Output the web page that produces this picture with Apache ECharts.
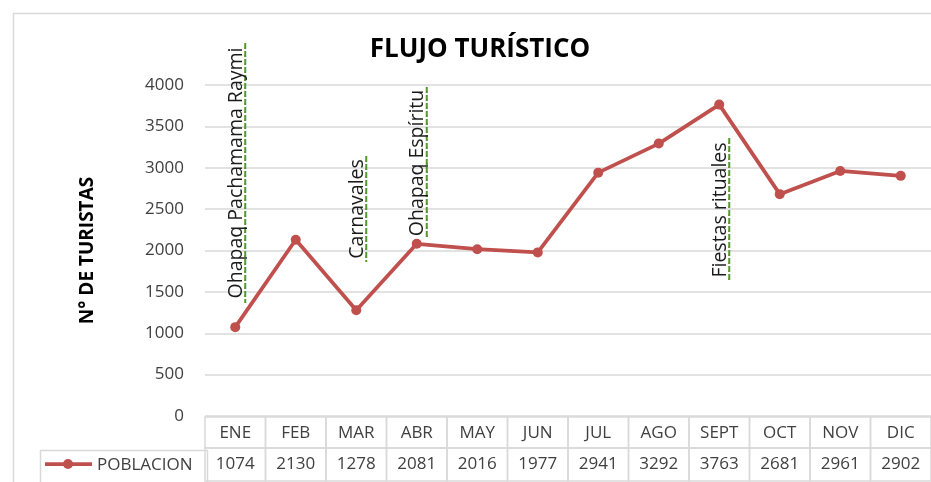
<!DOCTYPE html>
<html>
<head>
<meta charset="utf-8">
<script src="https://cdn.jsdelivr.net/npm/echarts@6/dist/echarts.min.js"></script>
<style>
  html, body { margin: 0; padding: 0; background: #fff; }
  #chart { width: 931px; height: 482px; }
</style>
</head>
<body>
<div id="chart"></div>
<script>
// Monthly tourist arrivals
const months = ['ENE', 'FEB', 'MAR', 'ABR', 'MAY', 'JUN', 'JUL', 'AGO', 'SEPT', 'OCT', 'NOV', 'DIC'];
const poblacion = [1074, 2130, 1278, 2081, 2016, 1977, 2941, 3292, 3763, 2681, 2961, 2902];
const seriesName = 'POBLACION';

// Festivities noted on the chart: month index, lower and upper value of the note
const eventMonths = [0, 2, 3, 8];
const eventLow = [1366, 1861, 2139, 1619];
const eventHigh = [4508, 3142, 3976, 3360];
const eventNames = ['Ohapaq Pachamama Raymi', 'Carnavales', 'Ohapaq Espíritu', 'Fiestas rituales'];

const yTicks = [0, 500, 1000, 1500, 2000, 2500, 3000, 3500, 4000];

const FONT = '"Open Sans", "Liberation Sans", sans-serif';
const LINE_COLOR = '#c0504d';
const GRID_COLOR = '#d9d9d9';
const TEXT_COLOR = '#404040';

const chart = echarts.init(document.getElementById('chart'), null, { renderer: 'canvas' });

const eventData = eventMonths.map((m, k) => [m, eventLow[k], eventHigh[k]]);
const tableData = poblacion.map((v, i) => [i, v]);

chart.setOption({
  animation: false,
  backgroundColor: '#ffffff',
  title: {
    text: 'FLUJO TURÍSTICO',
    left: 475,
    top: 32,
    textAlign: 'center',
    textStyle: { fontFamily: FONT, fontSize: 26, fontWeight: 'bold', color: '#000', letterSpacing: 1.2 }
  },
  grid: { left: 205, right: 0, top: 85, bottom: 66, containLabel: false },
  xAxis: {
    type: 'category',
    data: months,
    boundaryGap: true,
    axisLine: { show: false },
    axisTick: { show: false },
    axisLabel: { show: false },
    splitLine: { show: false }
  },
  yAxis: {
    type: 'value',
    min: yTicks[0],
    max: yTicks[yTicks.length - 1],
    interval: 500,
    name: 'N° DE TURISTAS',
    nameLocation: 'middle',
    nameRotate: 90,
    nameGap: 108,
    nameTextStyle: { fontFamily: FONT, fontSize: 19, fontWeight: 'bold', color: '#000' },
    axisLine: { show: false },
    axisTick: { show: false },
    axisLabel: { fontFamily: FONT, fontSize: 17, color: TEXT_COLOR, margin: 21, formatter: v => String(v) },
    splitLine: { lineStyle: { color: GRID_COLOR, width: 1.5 } }
  },
  series: [
    {
      name: seriesName,
      type: 'line',
      data: poblacion,
      symbol: 'circle',
      symbolSize: 10,
      lineStyle: { color: LINE_COLOR, width: 3.75 },
      itemStyle: { color: LINE_COLOR },
      z: 3
    },
    {
      // vertical festivity notes
      type: 'custom',
      clip: false,
      data: eventData,
      z: 4,
      renderItem: function (params, api) {
        const lo = api.coord([api.value(0), api.value(1)]);
        const hi = api.coord([api.value(0), api.value(2)]);
        const x = lo[0];
        const lx = x + 10;
        return {
          type: 'group',
          children: [
            {
              type: 'line',
              shape: { x1: lx, y1: hi[1], x2: lx, y2: lo[1] },
              style: { stroke: '#ff2a2a', lineWidth: 1.5, lineDash: [2, 6], lineDashOffset: 4 }
            },
            {
              type: 'line',
              shape: { x1: lx, y1: hi[1], x2: lx, y2: lo[1] },
              style: { stroke: '#4f9a2e', lineWidth: 2, lineDash: [6, 2] }
            },
            {
              type: 'text',
              x: x + 1,
              y: (hi[1] + lo[1]) / 2,
              rotation: Math.PI / 2,
              style: {
                text: eventNames[params.dataIndex],
                fontFamily: FONT,
                fontSize: 19.5,
                fill: '#1a1a1a',
                align: 'center',
                verticalAlign: 'middle'
              }
            }
          ]
        };
      }
    },
    {
      // data table under the plot: month header and value per column
      type: 'custom',
      clip: false,
      data: tableData,
      z: 2,
      renderItem: function (params, api) {
        const i = api.value(0);
        const base = api.coord([i, 0]);
        const w = api.size([1, 0])[0];
        const x0 = base[0] - w / 2;
        const y0 = base[1] + 1;
        const h1 = 31, h2 = 33;
        return {
          type: 'group',
          children: [
            { type: 'rect', shape: { x: x0, y: y0, width: w, height: h1 },
              style: { fill: 'none', stroke: GRID_COLOR, lineWidth: 1.5 } },
            { type: 'rect', shape: { x: x0, y: y0 + h1, width: w, height: h2 },
              style: { fill: 'none', stroke: GRID_COLOR, lineWidth: 1.5 } },
            { type: 'text', x: base[0], y: y0 + h1 / 2 + 1,
              style: { text: months[i], fontFamily: FONT, fontSize: 17, fill: TEXT_COLOR, align: 'center', verticalAlign: 'middle' } },
            { type: 'text', x: base[0], y: y0 + h1 + h2 / 2,
              style: { text: String(api.value(1)), fontFamily: FONT, fontSize: 17, fill: TEXT_COLOR, align: 'center', verticalAlign: 'middle' } }
          ]
        };
      }
    }
  ],
  graphic: [
    // outer chart frame
    { type: 'rect', left: 11, top: 11, shape: { width: 940, height: 500 },
      style: { fill: 'none', stroke: '#d9d9d9', lineWidth: 1.5 }, silent: true },
    // legend key cell of the table
    { type: 'rect', left: 38, top: 448, shape: { width: 167, height: 33 },
      style: { fill: 'none', stroke: GRID_COLOR, lineWidth: 1.5 }, silent: true },
    { type: 'line', shape: { x1: 45, y1: 464, x2: 92, y2: 464 },
      style: { stroke: LINE_COLOR, lineWidth: 3.75 }, silent: true },
    { type: 'circle', shape: { cx: 68, cy: 464, r: 5 },
      style: { fill: LINE_COLOR }, silent: true },
    { type: 'text', x: 97, y: 465,
      style: { text: seriesName, fontFamily: FONT, fontSize: 17, fill: TEXT_COLOR, verticalAlign: 'middle' }, silent: true }
  ]
});
</script>
</body>
</html>
